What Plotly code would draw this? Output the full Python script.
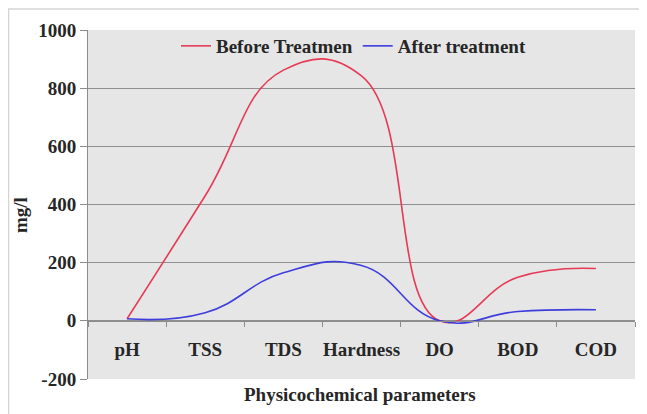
import plotly.graph_objects as go

categories = ["pH", "TSS", "TDS", "Hardness", "DO", "BOD", "COD"]
before_treatment = [7, 430, 862, 842, 0, 150, 180]
after_treatment = [7, 28, 165, 190, 0, 32, 38]
y_ticks = [-200, 0, 200, 400, 600, 800, 1000]

FONT = "Liberation Serif"
FS = 19
OFF = 8  # page body offset
W, H = 647 - OFF, 414 - OFF
# plot area in screen pixels: x 88..635, y 30..379
L, R, T, B = 88 - OFF, 647 - 635, 30 - OFF, 414 - 379
pw, ph = W - L - R, H - T - B

def px_x(px):
    return (px - OFF - L) / pw

def px_y(py):
    return (H - B - (py - OFF)) / ph

bold = dict(family=FONT, size=FS, color="#262626", weight="bold")

fig = go.Figure()
fig.add_trace(go.Scatter(x=categories, y=before_treatment, mode="lines",
                         name="Before Treatmen",
                         line=dict(color="#e63a55", width=1.6, shape="spline", smoothing=1.3)))
fig.add_trace(go.Scatter(x=categories, y=after_treatment, mode="lines",
                         name="After treatment",
                         line=dict(color="#3d3ddd", width=1.6, shape="spline", smoothing=1.3)))

fig.update_layout(
    width=W, height=H,
    margin=dict(l=L, r=R, t=T, b=B, autoexpand=False),
    paper_bgcolor="white",
    plot_bgcolor="#e6e6e6",
    font=dict(family=FONT, size=FS, color="#262626"),
    showlegend=True,
    legend=dict(orientation="h", x=px_x(176), y=px_y(46), xanchor="left", yanchor="middle",
                bgcolor="rgba(0,0,0,0)", font=bold,
                itemwidth=30, tracegroupgap=0),
    xaxis=dict(type="category", anchor="free", position=1/6, automargin=False,
               showline=True, linecolor="#8c8c8c", linewidth=1,
               ticks="outside", tickson="boundaries", ticklen=5, tickcolor="#8c8c8c",
               showgrid=False, zeroline=False, tickangle=0,
               ticklabelstandoff=11,
               tickfont=bold,
               range=[-0.5, 6.5]),
    yaxis=dict(range=[-200, 1000], tickvals=y_ticks, ticktext=[str(v) for v in y_ticks],
               automargin=False,
               showline=True, linecolor="#8c8c8c", linewidth=1,
               ticks="outside", ticklen=7, tickcolor="#8c8c8c",
               showgrid=True, gridcolor="#8f8f8f", gridwidth=1, zeroline=False,
               tickfont=bold),
)

fig.add_annotation(text="mg/l", x=px_x(20), y=px_y(215), xref="paper", yref="paper",
                   xanchor="center", yanchor="middle",
                   showarrow=False, textangle=-90, font=bold)
fig.add_annotation(text="Physicochemical parameters", x=px_x(360), y=px_y(395),
                   xref="paper", yref="paper", xanchor="center", yanchor="middle",
                   showarrow=False, font=bold)
fig.add_shape(type="line", xref="paper", yref="paper",
              x0=px_x(8), x1=px_x(647), y0=px_y(9), y1=px_y(9),
              line=dict(color="#d4d4d4", width=1.5), layer="below")
fig.add_shape(type="line", xref="paper", yref="paper",
              x0=px_x(8.5), x1=px_x(8.5), y0=px_y(9), y1=px_y(414),
              line=dict(color="#d4d4d4", width=1.5), layer="below")

fig.write_html("out.html")
